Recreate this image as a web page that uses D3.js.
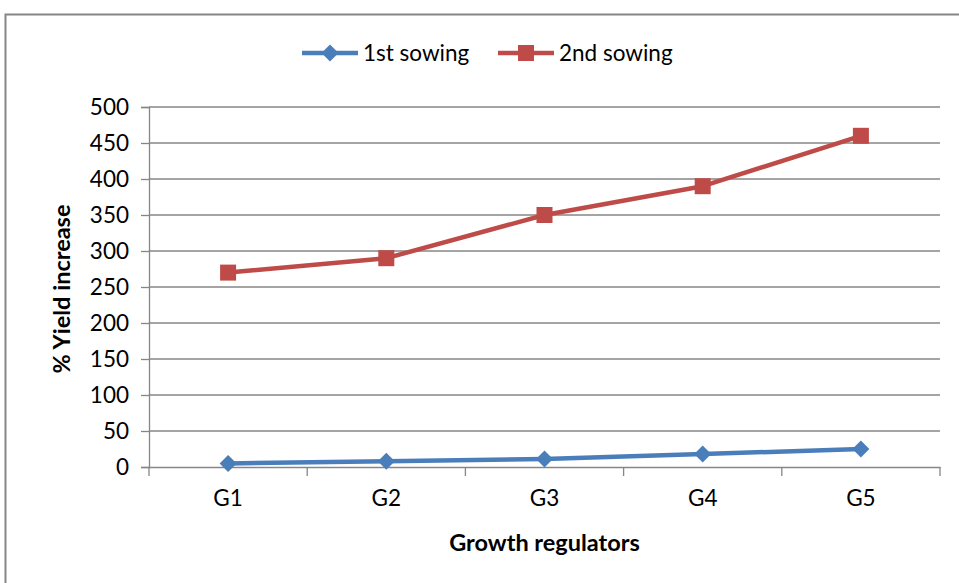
<!DOCTYPE html>
<html>
<head>
<meta charset="utf-8">
<script src="https://cdn.jsdelivr.net/npm/d3@7"></script>
<style>
  body { margin: 0; background: #fff; }
  svg { display: block; }
  text { font-family: Lato, "Open Sans", sans-serif; fill: #000; }
</style>
</head>
<body>
<svg id="chart" width="959" height="583"></svg>
<script>
// Yield increase (%) by growth regulator for two sowing dates
const categories = ["G1", "G2", "G3", "G4", "G5"];
const firstSowing = [5, 8, 11, 18, 25];
const secondSowing = [270, 290, 350, 390, 460];
const yTicks = [0, 50, 100, 150, 200, 250, 300, 350, 400, 450, 500];

const seriesList = [
  { name: "1st sowing", values: firstSowing, color: "#4A7EBB", marker: "diamond" },
  { name: "2nd sowing", values: secondSowing, color: "#BE4B48", marker: "square" }
];

const svg = d3.select("#chart");
const W = 959, H = 583;
const plot = { left: 149, right: 940, top: 107, bottom: 467 };
const labelSize = 22.5, titleSize = 23.5;

// outer chart frame
svg.append("rect")
  .attr("x", 5.5).attr("y", 14.5)
  .attr("width", W + 10).attr("height", H + 10)
  .attr("fill", "#fff").attr("stroke", "#868686").attr("stroke-width", 2);

const x = d3.scaleBand().domain(categories).range([plot.left, plot.right]).padding(0);
const y = d3.scaleLinear().domain([0, 500]).range([plot.bottom, plot.top]);

// horizontal gridlines
svg.append("g").selectAll("line").data(yTicks.filter(d => d > 0)).join("line")
  .attr("x1", plot.left).attr("x2", plot.right)
  .attr("y1", d => y(d)).attr("y2", d => y(d))
  .attr("stroke", "#868686").attr("stroke-width", 1.3);

// y axis
const yAxis = svg.append("g").attr("transform", `translate(${plot.left},0)`)
  .call(d3.axisLeft(y).tickValues(yTicks).tickSize(8).tickPadding(12));
yAxis.select(".domain").attr("stroke", "#868686").attr("stroke-width", 1.3);
yAxis.selectAll(".tick line").attr("stroke", "#868686").attr("stroke-width", 1.3);
yAxis.selectAll(".tick text").attr("font-size", labelSize).attr("font-family", "Lato, sans-serif");

// x axis with boundary tick marks between categories
const xAxis = svg.append("g").attr("transform", `translate(0,${plot.bottom})`)
  .call(d3.axisBottom(x).tickSize(0).tickPadding(23));
xAxis.select(".domain").attr("stroke", "#868686").attr("stroke-width", 1.3);
xAxis.selectAll(".tick text").attr("font-size", labelSize).attr("font-family", "Lato, sans-serif");
const bounds = categories.map(c => x(c)).concat([x(categories[categories.length - 1]) + x.bandwidth()]);
svg.append("g").selectAll("line").data(bounds).join("line")
  .attr("x1", d => d).attr("x2", d => d)
  .attr("y1", plot.bottom).attr("y2", plot.bottom + 9)
  .attr("stroke", "#868686").attr("stroke-width", 1.3);

// axis titles
svg.append("text")
  .attr("transform", `translate(70,${(plot.top + plot.bottom) / 2 + 2}) rotate(-90)`)
  .attr("text-anchor", "middle").attr("font-size", titleSize).attr("font-weight", "bold")
  .text("% Yield increase");
svg.append("text")
  .attr("x", (plot.left + plot.right) / 2).attr("y", 551)
  .attr("text-anchor", "middle").attr("font-size", titleSize).attr("font-weight", "bold")
  .text("Growth regulators");

const cx = c => x(c) + x.bandwidth() / 2;
const line = d3.line().x((d, i) => cx(categories[i])).y(d => y(d));

function drawMarker(g, type, color, px, py) {
  if (type === "diamond") {
    const r = 8.5;
    g.append("path")
      .attr("d", `M${px},${py - r}L${px + r},${py}L${px},${py + r}L${px - r},${py}Z`)
      .attr("fill", color);
  } else {
    const s = 16;
    g.append("rect").attr("x", px - s / 2).attr("y", py - s / 2)
      .attr("width", s).attr("height", s).attr("fill", color);
  }
}

seriesList.forEach(s => {
  const g = svg.append("g");
  g.append("path").datum(s.values)
    .attr("d", line).attr("fill", "none")
    .attr("stroke", s.color).attr("stroke-width", 4.5).attr("stroke-linejoin", "round");
  s.values.forEach((v, i) => drawMarker(g, s.marker, s.color, cx(categories[i]), y(v)));
});

// legend
const legendItems = [
  { x0: 302, s: seriesList[0] },
  { x0: 498, s: seriesList[1] }
];
const ly = 53;
legendItems.forEach(({ x0, s }) => {
  const g = svg.append("g");
  g.append("line").attr("x1", x0).attr("x2", x0 + 56).attr("y1", ly).attr("y2", ly)
    .attr("stroke", s.color).attr("stroke-width", 4.5);
  drawMarker(g, s.marker, s.color, x0 + 28, ly);
  g.append("text").attr("x", x0 + 61).attr("y", ly + 8)
    .attr("font-size", labelSize).text(s.name);
});
</script>
</body>
</html>
